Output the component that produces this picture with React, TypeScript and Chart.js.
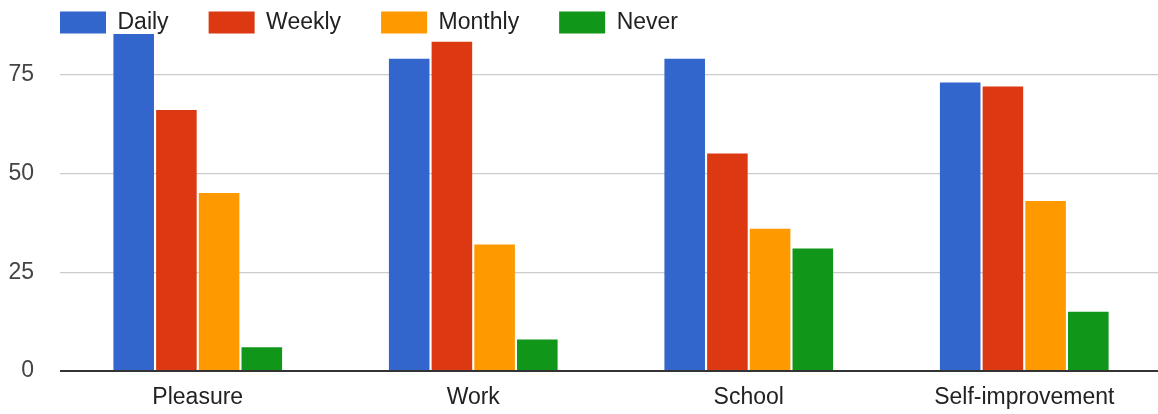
import React, { useEffect, useRef } from "react";
import { Chart, registerables } from "chart.js";

Chart.register(...registerables);

const categories = ["Pleasure", "Work", "School", "Self-improvement"];
const seriesNames = ["Daily", "Weekly", "Monthly", "Never"];
const daily = [86, 79, 79, 73];
const weekly = [66, 83.3, 55, 72];
const monthly = [45, 32, 36, 43];
const never = [6, 8, 31, 15];
const seriesColors = ["#3366cc", "#dc3912", "#ff9900", "#109618"];
const yTicks = [0, 25, 50, 75];
const yMax = 85.25;

const FONT = "'Liberation Sans', Arial, sans-serif";

const legendShift = {
  id: "legendShift",
  afterLayout(chart: any) {
    if (chart.legend) {
      chart.legend.left += 20;
    }
  },
};

export default function App() {
  const ref = useRef<HTMLCanvasElement | null>(null);

  useEffect(() => {
    document.body.style.margin = "0";
    const canvas = ref.current;
    if (!canvas) return;
    const values = [daily, weekly, monthly, never];
    const chart = new Chart(canvas, {
      type: "bar",
      data: {
        labels: categories,
        datasets: seriesNames.map((name, i) => ({
          label: name,
          data: values[i],
          backgroundColor: seriesColors[i],
          borderWidth: 0,
          categoryPercentage: 0.62,
          barPercentage: 0.95,
        })),
      },
      plugins: [legendShift],
      options: {
        responsive: false,
        animation: false,
        devicePixelRatio: 1,
        layout: { padding: { left: 0, top: -29, right: 0, bottom: 0 } },
        plugins: {
          legend: {
            position: "top",
            align: "start",
            maxHeight: 63,
            labels: {
              boxWidth: 46,
              boxHeight: 22,
              padding: 40,
              color: "#222",
              font: { family: FONT, size: 23 },
            },
          },
          tooltip: { enabled: false },
        },
        scales: {
          x: {
            grid: { display: false, drawTicks: false },
            border: { display: false },
            ticks: {
              color: "#222",
              font: { family: FONT, size: 23 },
              padding: 13,
              maxRotation: 0,
              autoSkip: false,
            },
            afterFit: (scale: any) => {
              scale.height = 43;
            },
          },
          y: {
            min: 0,
            max: yMax,
            border: { display: false },
            grid: {
              drawTicks: true,
              tickLength: 26,
              tickColor: "rgba(0,0,0,0)",
              color: (ctx: any) => (ctx.tick && ctx.tick.value === 0 ? "#333" : "#cccccc"),
              lineWidth: (ctx: any) => (ctx.tick && ctx.tick.value === 0 ? 2 : 1.2),
            },
            afterBuildTicks: (scale: any) => {
              scale.ticks = yTicks.map((v) => ({ value: v }));
            },
            ticks: {
              color: "#444",
              font: { family: FONT, size: 23 },
              padding: 0,
              includeBounds: false,
            },
            afterFit: (scale: any) => {
              scale.width = 60;
            },
          },
        },
      },
    });
    return () => chart.destroy();
  }, []);

  return (
    <div style={{ position: "absolute", left: 0, top: 0, width: 1158, height: 414, overflow: "hidden", background: "#fff" }}>
      <canvas ref={ref} width={1162} height={414} style={{ display: "block", width: 1162, height: 414 }} />
    </div>
  );
}
